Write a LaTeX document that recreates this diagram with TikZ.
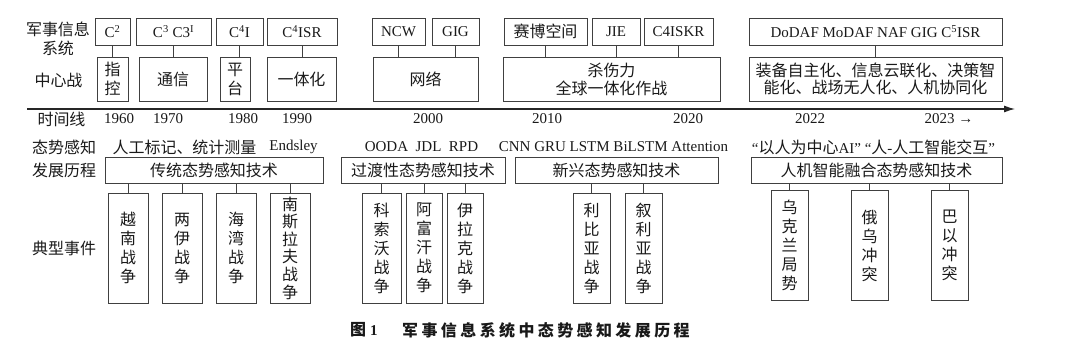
\documentclass[tikz,border=0pt]{standalone}
\usepackage{fontspec}
\setmainfont{Liberation Serif}
\newfontfamily\cjk{Noto Sans CJK SC}[Scale=1.066]
\usetikzlibrary{arrows.meta}
\newcommand\zh[1]{{\cjk #1}}
\newcommand\capsp{\hspace{3.4pt}}
\begin{document}
\begin{tikzpicture}[x=1pt,y=-1pt,
  every node/.style={font=\fontsize{15}{19}\selectfont, text=black!90, inner sep=0pt},
  box/.style={draw=black!75, line width=0.9pt, align=center},
  zht/.style={font=\fontsize{15}{19}\selectfont\cjk},
  link/.style={draw=black!75, line width=0.9pt}]
\useasboundingbox (0,0) rectangle (1080,353);

% row labels
\node[zht, align=center] (lab1) at (58,39) {军事信息\\系统};
\node[zht] (lab2) at (58.5,80) {中心战};
\node[zht] (lab3) at (61.5,119) {时间线};
\node[zht, anchor=west] (lab4) at (32,147) {态势感知};
\node[zht, anchor=west] (lab5) at (32,170) {发展历程};
\node[zht, anchor=west] (lab6) at (32,248) {典型事件};

% top row systems
\node[box, minimum width=35, minimum height=27] (c2) at (112.5,31.5) {C\textsuperscript{2}};
\node[box, minimum width=75, minimum height=27] (c3) at (173.5,31.5) {C\textsuperscript{3} C3\textsuperscript{I}};
\node[box, minimum width=47, minimum height=27] (c4i) at (239.5,31.5) {C\textsuperscript{4}I};
\node[box, minimum width=70, minimum height=27] (c4isr) at (302,31.5) {C\textsuperscript{4}ISR};
\node[box, minimum width=53, minimum height=27] (ncw) at (398.5,31.5) {NCW};
\node[box, minimum width=47, minimum height=27] (gig) at (455.5,31.5) {GIG};
\node[box, zht, minimum width=83, minimum height=27] (cyber) at (545.5,31.5) {赛博空间};
\node[box, minimum width=48, minimum height=27] (jie) at (616,31.5) {JIE};
\node[box, minimum width=69, minimum height=27] (c4iskr) at (678.5,31.5) {C4ISKR};
\node[box, minimum width=253, minimum height=27] (dodaf) at (875.5,31.5) {DoDAF MoDAF NAF GIG C\textsuperscript{5}ISR};

% second row
\node[box, zht, minimum width=31, minimum height=44] (zk) at (112.5,79) {指\\控};
\node[box, zht, minimum width=68, minimum height=44] (tx) at (173,79) {通信};
\node[box, zht, minimum width=30, minimum height=44] (pt) at (235,79) {平\\台};
\node[box, zht, minimum width=69, minimum height=44] (yth) at (301.5,79) {一体化};
\node[box, zht, minimum width=105, minimum height=44] (wl) at (425.5,79) {网络};
\node[box, zht, minimum width=217, minimum height=44, font=\fontsize{15}{18}\selectfont\cjk] (kill) at (611.5,79) {杀伤力\\全球一体化作战};
\node[box, zht, minimum width=253, minimum height=44, font=\fontsize{15}{17.5}\selectfont\cjk] (zb) at (875.5,79) {装备自主化、信息云联化、决策智\\能化、战场无人化、人机协同化};

\foreach \t/\b in {c2/zk, c3/tx, c4i/pt, c4isr/yth, ncw/wl, gig/wl, cyber/kill, jie/kill, c4iskr/kill, dodaf/zb}
  \draw[link] (\t.south) -- (\t.south |- \b.north);

% timeline
\coordinate (tl0) at (27,109);
\coordinate (tl1) at (1015,109);
\draw[link, draw=black!85, line width=1.1pt, -{Latex[length=11pt,width=7pt]}] (tl0) -- (tl1);
\node (y1960) at (119,119) {1960};
\node (y1970) at (168,119) {1970};
\node (y1980) at (243,119) {1980};
\node (y1990) at (297,119) {1990};
\node (y2000) at (428,119) {2000};
\node (y2010) at (547,119) {2010};
\node (y2020) at (688,119) {2020};
\node (y2022) at (810,119) {2022};
\node (y2023) at (949,119) {2023 →};

% situation awareness labels
\node[zht] (t1) at (184.5,147) {人工标记、统计测量};
\node (t2) at (293.5,147) {Endsley};
\node (t3) at (421.5,147) {OODA\ \ JDL\ \ RPD};
\node (t4) at (613.5,147) {CNN GRU LSTM BiLSTM Attention};
\node (t5) at (873.5,147) {“\zh{以人为中心}AI” “\zh{人}-\zh{人工智能交互}”};

% technique boxes
\node[box, zht, minimum width=218, minimum height=26] (ct) at (214,170) {传统态势感知技术};
\node[box, zht, minimum width=164, minimum height=26] (gd) at (423,170) {过渡性态势感知技术};
\node[box, zht, minimum width=203, minimum height=26] (xx) at (616.5,170) {新兴态势感知技术};
\node[box, zht, minimum width=251, minimum height=26] (rj) at (876.5,170) {人机智能融合态势感知技术};

% event boxes
\node[box, zht, minimum width=40, minimum height=110] (yn) at (128,248) {越\\南\\战\\争};
\node[box, zht, minimum width=40, minimum height=110] (ly) at (182,248) {两\\伊\\战\\争};
\node[box, zht, minimum width=40, minimum height=110] (hw) at (236,248) {海\\湾\\战\\争};
\node[box, zht, minimum width=40, minimum height=110, font=\fontsize{15}{17.6}\selectfont\cjk] (nsl) at (290,248) {南\\斯\\拉\\夫\\战\\争};
\node[box, zht, minimum width=39, minimum height=110] (ksw) at (381.5,248) {科\\索\\沃\\战\\争};
\node[box, zht, minimum width=36, minimum height=110] (afh) at (424,248) {阿\\富\\汗\\战\\争};
\node[box, zht, minimum width=36, minimum height=110] (ylk) at (465,248) {伊\\拉\\克\\战\\争};
\node[box, zht, minimum width=37, minimum height=110] (lby) at (591.5,248) {利\\比\\亚\\战\\争};
\node[box, zht, minimum width=37, minimum height=110] (xly) at (643.5,248) {叙\\利\\亚\\战\\争};
\node[box, zht, minimum width=37, minimum height=110] (wkl) at (789.5,245.5) {乌\\克\\兰\\局\\势};
\node[box, zht, minimum width=37, minimum height=110] (ew) at (869.5,245.5) {俄\\乌\\冲\\突};
\node[box, zht, minimum width=37, minimum height=110] (by) at (949.5,245.5) {巴\\以\\冲\\突};

\foreach \e/\g in {yn/ct, ly/ct, hw/ct, nsl/ct, ksw/gd, afh/gd, ylk/gd, lby/xx, xly/xx, wkl/rj, ew/rj, by/rj}
  \draw[link] (\e.north) -- (\e.north |- \g.south);

% caption
\node[anchor=west, font=\fontsize{15}{19}\selectfont\bfseries] (figno) at (350,330) {\zh{图}\hspace{4pt}1};
\node[anchor=west, font=\fontsize{15}{19}\selectfont\bfseries\cjk] (cap) at (402,330)
  {军\capsp 事\capsp 信\capsp 息\capsp 系\capsp 统\capsp 中\capsp 态\capsp 势\capsp 感\capsp 知\capsp 发\capsp 展\capsp 历\capsp 程};
\end{tikzpicture}
\end{document}
